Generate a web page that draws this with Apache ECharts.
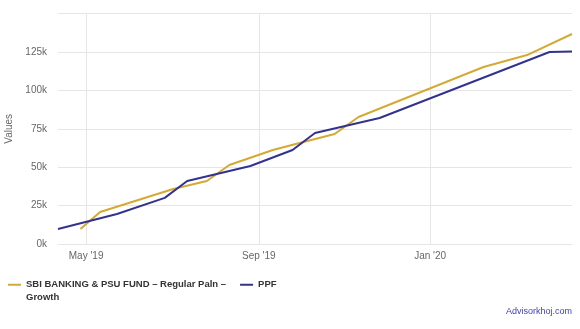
<!DOCTYPE html>
<html>
<head>
<meta charset="utf-8">
<script src="https://cdn.jsdelivr.net/npm/echarts@6/dist/echarts.min.js"></script>
<style>
html,body{margin:0;padding:0;background:#fff;}
#chart{width:580px;height:329px;}
</style>
</head>
<body>
<div id="chart"></div>
<script>
var seriesNames = ['SBI BANKING & PSU FUND – Regular Paln – Growth', 'PPF'];
var sbiDates = ['2019-04-27','2019-05-11','2019-07-02','2019-07-26','2019-08-11','2019-09-11','2019-09-30','2019-10-25','2019-11-11','2020-02-08','2020-03-10','2020-04-11'];
var sbiValues = [9800, 20800, 35800, 41000, 51400, 61200, 65800, 71600, 82700, 115200, 123000, 136700];
var ppfDates = ['2019-04-11','2019-05-23','2019-06-26','2019-07-12','2019-08-26','2019-09-25','2019-10-11','2019-11-26','2020-03-26','2020-04-11'];
var ppfValues = [9800, 19500, 30000, 41000, 50800, 61200, 72300, 82000, 125000, 125300];
var xTickValues = ['2019-05-01','2019-09-01','2020-01-01'];
var xRange = ['2019-04-11','2020-04-11'];
var monthNames = ['Jan','Feb','Mar','Apr','May','Jun','Jul','Aug','Sep','Oct','Nov','Dec'];

function ts(s){ return new Date(s + 'T00:00:00Z').getTime(); }
function pairs(d, v){ return d.map(function(x,i){ return [ts(x), v[i]]; }); }

var chart = echarts.init(document.getElementById('chart'));
chart.setOption({
  animation: false,
  grid: {left: 58, right: 8, top: 13.6, bottom: 85, containLabel: false, outerBoundsMode: 'none'},
  xAxis: {
    type: 'value',
    min: ts(xRange[0]),
    max: ts(xRange[1]),
    axisLine: {show: true, lineStyle: {color: '#e6e6e6'}},
    axisTick: {show: false, customValues: xTickValues.map(ts)},
    splitLine: {show: true, lineStyle: {color: '#e6e6e6', width: 1}},
    axisLabel: {
      customValues: xTickValues.map(ts),
      color: '#666', fontSize: 10, fontFamily: 'Liberation Sans', margin: 7,
      formatter: function(v){ var d = new Date(v); return monthNames[d.getUTCMonth()] + " '" + String(d.getUTCFullYear()).slice(2); }
    }
  },
  yAxis: {
    type: 'value',
    min: 0, max: 150000, interval: 25000,
    name: 'Values', nameLocation: 'middle', nameGap: 36,
    nameTextStyle: {color: '#666', fontSize: 10, fontFamily: 'Liberation Sans'},
    axisLine: {show: false}, axisTick: {show: false},
    splitLine: {lineStyle: {color: '#e6e6e6'}},
    axisLabel: {
      color: '#666', fontSize: 10, fontFamily: 'Liberation Sans', margin: 11,
      formatter: function(v){ return v >= 150000 ? '' : (v/1000) + 'k'; }
    }
  },
  legend: {
    left: 8, top: 266, padding: 0,
    icon: 'rect', itemWidth: 13, itemHeight: 2, itemGap: 14,
    textStyle: {color: '#333', fontWeight: 'bold', fontSize: 9.5, fontFamily: 'Liberation Sans', lineHeight: 12.5},
    formatter: function(name){
      return name === seriesNames[0] ? '\nSBI BANKING & PSU FUND – Regular Paln –\nGrowth' : name;
    },
    data: [seriesNames[0], seriesNames[1]]
  },
  graphic: [{
    type: 'text', right: 8, top: 307,
    style: {text: 'Advisorkhoj.com', fill: '#3b3bcc', font: '9px Liberation Sans'}
  }],
  series: [
    {name: seriesNames[0], type: 'line', data: pairs(sbiDates, sbiValues), symbol: 'none', lineStyle: {width: 2, color: '#d6a935'}, itemStyle: {color: '#d6a935'}},
    {name: seriesNames[1], type: 'line', data: pairs(ppfDates, ppfValues), symbol: 'none', lineStyle: {width: 2, color: '#33338f'}, itemStyle: {color: '#33338f'}}
  ]
});
</script>
</body>
</html>
